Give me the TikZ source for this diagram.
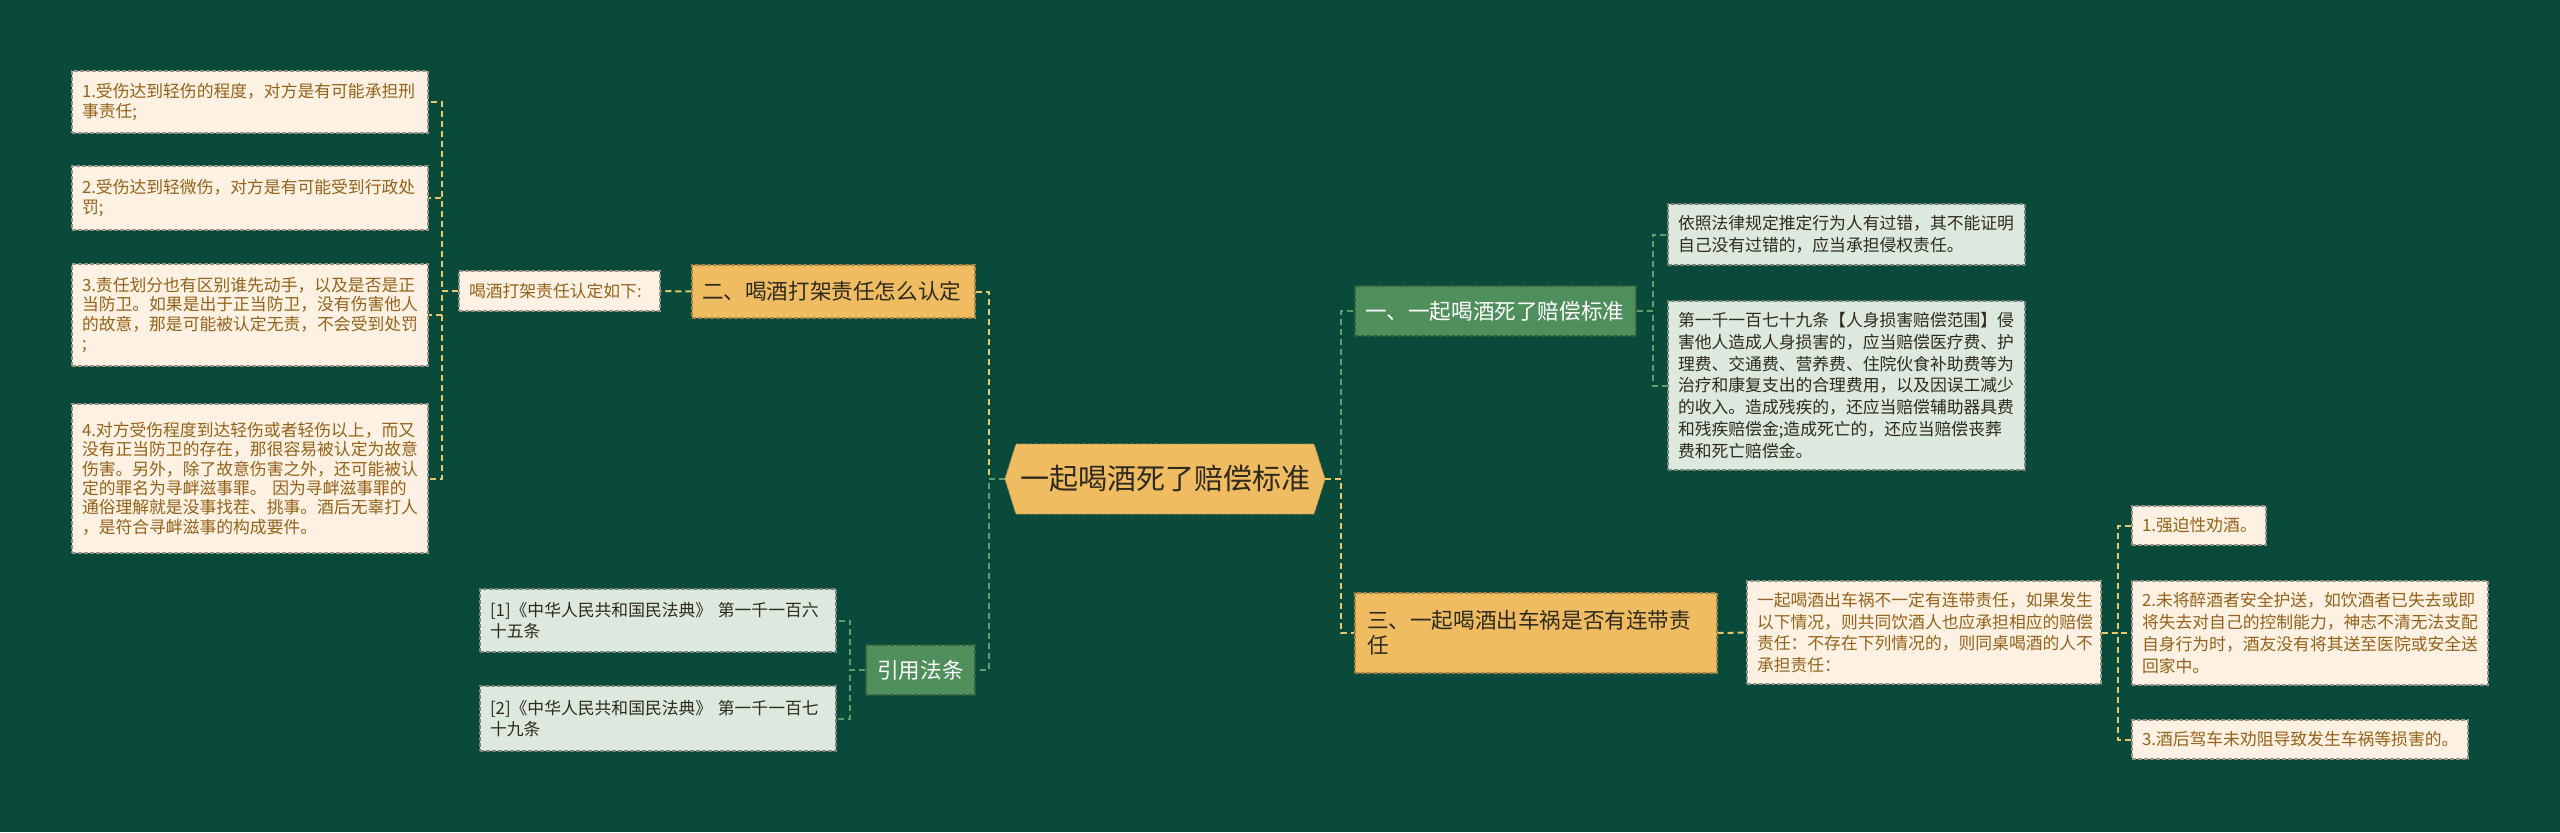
\documentclass[tikz,border=0pt]{standalone}
\usepackage{fontspec}
\setmainfont{Noto Sans CJK SC}
\usetikzlibrary{positioning,shapes.symbols}
\definecolor{bg}{HTML}{0A4A3A}
\definecolor{peach}{HTML}{EFBC62}
\definecolor{cream}{HTML}{FCF1E2}
\definecolor{umber}{HTML}{94621A}
\definecolor{leafgreen}{HTML}{4F8F5C}
\definecolor{mist}{HTML}{DDE8DF}
\definecolor{ink}{HTML}{2E2A1E}
\definecolor{wire}{HTML}{E6C870}
\definecolor{gwire}{HTML}{5E9E6C}
\tikzset{
  base/.style={dash pattern=on 2pt off 1pt, line width=0.6pt, inner xsep=5pt,
               inner ysep=0pt, align=left},
  root/.style={signal, signal to=west and east, signal pointer angle=145,
               fill=peach, draw=peach!80!black, dash pattern=on 2pt off 1pt,
               text=ink, inner xsep=2pt, minimum width=159pt, minimum height=35pt,
               font=\fontsize{14.5}{17}\selectfont},
  topico/.style={base, fill=peach, draw=peach!70!black, text=ink,
                 font=\fontsize{10.8}{12.5}\selectfont},
  topicg/.style={base, fill=leafgreen, draw=leafgreen!65!black, text=white,
                 font=\fontsize{10.8}{12.5}\selectfont},
  leafc/.style={base, fill=cream, draw=cream!60!black, text=umber,
                font=\fontsize{8.4}{9.7}\selectfont},
  leafcr/.style={leafc, font=\fontsize{8.4}{10.9}\selectfont},
  leafg/.style={base, fill=mist, draw=mist!55!black, text=ink,
                font=\fontsize{8.4}{10.9}\selectfont},
  ylink/.style={draw=wire, line width=1pt, dash pattern=on 3pt off 2pt},
  glink/.style={ylink, draw=gwire},
}

\begin{document}
\begin{tikzpicture}[x=0.5pt, y=-0.5pt]
  \fill[bg] (0,0) rectangle (2560,832);
  \useasboundingbox (0,0) rectangle (2560,832);

  % centre
  \node[root] (ctr) at (1165,479) {一起喝酒死了赔偿标准};

  % left branch
  \node[topico, text width=131.5pt, minimum height=26.5pt] (fight) at (833.5,291.5) {二、喝酒打架责任怎么认定};
  \node[leafc, text width=90.5pt, minimum height=20pt] (rule) at (559.5,291) {喝酒打架责任认定如下:};
  \node[leafc, text width=168pt, minimum height=31pt] (l1) at (250,102) {1.受伤达到轻伤的程度，对方是有可能承担刑\\事责任;};
  \node[leafc, text width=168pt, minimum height=32pt] (l2) at (250,198) {2.受伤达到轻微伤，对方是有可能受到行政处\\罚;};
  \node[leafc, text width=168pt, minimum height=51pt] (l3) at (250,315) {3.责任划分也有区别谁先动手，以及是否是正\\当防卫。如果是出于正当防卫，没有伤害他人\\的故意，那是可能被认定无责，不会受到处罚\\;};
  \node[leafc, text width=168pt, minimum height=74.5pt] (l4) at (250,478.5) {4.对方受伤程度到达轻伤或者轻伤以上，而又\\没有正当防卫的存在，那很容易被认定为故意\\伤害。另外，除了故意伤害之外，还可能被认\\定的罪名为寻衅滋事罪。 因为寻衅滋事罪的\\通俗理解就是没事找茬、挑事。酒后无辜打人\\，是符合寻衅滋事的构成要件。};

  \node[topicg, text width=44.5pt, align=center, minimum height=25pt] (law) at (920.5,670) {引用法条};
  \node[leafg, text width=168pt, minimum height=31.5pt] (e1) at (658,620.5) {[1]《中华人民共和国民法典》 第一千一百六\\十五条};
  \node[leafg, text width=168pt, minimum height=32.5pt] (e2) at (658,718.5) {[2]《中华人民共和国民法典》 第一千一百七\\十九条};

  % right branch
  \node[topicg, text width=130.5pt, minimum height=25pt] (death) at (1495.5,311) {一、一起喝酒死了赔偿标准};
  \node[leafg, text width=168.5pt, minimum height=30.5pt] (ga) at (1846.5,234.5) {依照法律规定推定行为人有过错，其不能证明\\自己没有过错的，应当承担侵权责任。};
  \node[leafg, text width=168.5pt, minimum height=84.5pt] (gb) at (1846.5,385.5) {第一千一百七十九条【人身损害赔偿范围】侵\\害他人造成人身损害的，应当赔偿医疗费、护\\理费、交通费、营养费、住院伙食补助费等为\\治疗和康复支出的合理费用，以及因误工减少\\的收入。造成残疾的，还应当赔偿辅助器具费\\和残疾赔偿金;造成死亡的，还应当赔偿丧葬\\费和死亡赔偿金。};

  \node[topico, inner xsep=6pt, text width=169pt, minimum height=40pt] (crash) at (1536,633) {三、一起喝酒出车祸是否有连带责\\任};
  \node[leafcr, text width=167pt, minimum height=51.5pt] (cc) at (1924,632.5) {一起喝酒出车祸不一定有连带责任，如果发生\\以下情况，则共同饮酒人也应承担相应的赔偿\\责任：不存在下列情况的，则同桌喝酒的人不\\承担责任：};
  \node[leafcr, text width=57pt, minimum height=19.5pt] (d1) at (2199,525.5) {1.强迫性劝酒。};
  \node[leafcr, text width=168pt, minimum height=52pt] (d2) at (2310,633) {2.未将醉酒者安全护送，如饮酒者已失去或即\\将失去对自己的控制能力，神志不清无法支配\\自身行为时，酒友没有将其送至医院或安全送\\回家中。};
  \node[leafcr, text width=158pt, minimum height=19.5pt] (d3) at (2300,739.5) {3.酒后驾车未劝阻导致发生车祸等损害的。};

  % connectors
  \draw[ylink] (ctr.west) -- ++(-16,0) |- (fight.east);
  \draw[glink] (ctr.west) -- ++(-16,0) |- (law.east);
  \draw[ylink] (fight.west) -- (rule.east);
  \foreach \n in {l1,l2,l3,l4}
    \draw[ylink] (rule.west) -- ++(-16,0) |- (\n.east);
  \foreach \n in {e1,e2}
    \draw[glink] (law.west) -- ++(-15,0) |- (\n.east);
  \draw[glink] (ctr.east) -- ++(16,0) |- (death.west);
  \draw[ylink] (ctr.east) -- ++(16,0) |- (crash.west);
  \foreach \n in {ga,gb}
    \draw[glink] (death.east) -- ++(16,0) |- (\n.west);
  \draw[ylink] (crash.east) -- (cc.west);
  \foreach \n in {d1,d2,d3}
    \draw[ylink] (cc.east) -- ++(16,0) |- (\n.west);
\end{tikzpicture}
\end{document}
